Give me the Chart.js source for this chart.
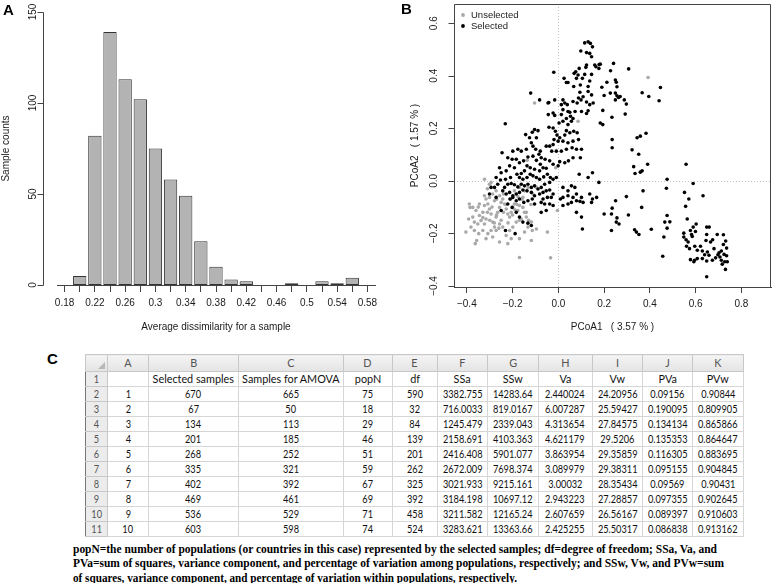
<!DOCTYPE html>
<html>
<head>
<meta charset="utf-8">
<script src="https://cdn.jsdelivr.net/npm/chart.js@4.4.1/dist/chart.umd.min.js"></script>
<style>
  html, body { margin: 0; padding: 0; background: #fff; }
  body { width: 775px; height: 583px; position: relative; overflow: hidden; }
  canvas { position: absolute; }
  .lab { position: absolute; font-family: "Liberation Sans", Arial, sans-serif; font-weight: bold; font-size: 15px; line-height: 15px; color: #000; z-index: 5; }
  #tbl { position: absolute; left: 85px; top: 354px; border-collapse: collapse; table-layout: fixed;
         font-family: Lato, "Open Sans", sans-serif; font-size: 11.5px; color: #111; }
  #tbl td { border: 1px solid #d6d6d6; height: 14px; padding: 0; text-align: center; white-space: nowrap; overflow: hidden; line-height: 14px; }
  #tbl td .c { display: flex; justify-content: center; }
  #tbl td .c span { display: inline-block; white-space: nowrap; transform-origin: 50% 50%; }
  #tbl tr.hdr td { background: linear-gradient(#f4f4f4, #e4e4e4); color: #555; height: 16px; line-height: 16px; border-color: #c8c8c8; }
  #tbl td.rn { background: #ececec; color: #555; border-color: #c8c8c8; }
  #tbl td.first { border-left: 1px solid #777; }
  #tbl td.corner { position: relative; }
  #tbl td.corner:after { content: ""; position: absolute; right: 2px; bottom: 2px; border-style: solid; border-width: 0 0 7px 7px; border-color: transparent transparent #b8b8b8 transparent; }
  .cap { position: absolute; left: 73px; font-family: "Liberation Serif", "Times New Roman", serif; font-weight: bold; font-size: 12.5px; line-height: 14px; white-space: nowrap; transform-origin: 0 50%; color: #000; }
</style>
</head>
<body>
<canvas id="ca" width="390" height="340" style="left:0;top:0"></canvas>
<canvas id="cb" width="385" height="345" style="left:390px;top:0"></canvas>
<div class="lab" style="left:3px;top:2px">A</div>
<div class="lab" style="left:401px;top:1px">B</div>
<div class="lab" style="left:47px;top:351px">C</div>
<table id="tbl"></table>
<div class="cap" id="cap1" style="top:542px"></div>
<div class="cap" id="cap2" style="top:556px"></div>
<div class="cap" id="cap3" style="top:571px"></div>
<script>
// ---------------- Panel A data ----------------
const dissimBins = [0.18, 0.20, 0.22, 0.24, 0.26, 0.28, 0.30, 0.32, 0.34, 0.36, 0.38, 0.40, 0.42, 0.44, 0.46, 0.48, 0.50, 0.52, 0.54, 0.56, 0.58];
const sampleCounts = [0, 5, 82, 139, 113, 102, 75, 58, 49, 24, 10, 3, 2, 0, 0, 1, 0, 2, 1, 4, 0];
const countTicks = [0, 50, 100, 150];
const countTickLabels = ['0', '50', '100', '150'];

// ---------------- Panel B data ----------------
const pcoaXTicks = [-0.4, -0.2, 0.0, 0.2, 0.4, 0.6, 0.8];
const pcoaYTicks = [-0.4, -0.2, 0.0, 0.2, 0.4, 0.6];
const pcoaYTickLabels = ['\u22120.4', '\u22120.2', '0.0', '0.2', '0.4', '0.6'];
const seriesNames = ['Unselected', 'Selected'];

const selectedPts = [
[0.115,0.525],[0.130,0.529],[0.140,0.523],[0.149,0.510],[0.098,0.494],[0.123,0.488],[0.137,0.485],[0.145,0.472],
[0.159,0.441],[0.178,0.443],[0.123,0.441],[0.120,0.432],[0.091,0.428],[0.076,0.415],[0.069,0.409],[0.086,0.403],
[0.115,0.405],[0.145,0.405],[0.177,0.428],[0.164,0.434],[-0.020,0.413],[0.025,0.390],[0.035,0.374],[0.042,0.374],
[0.079,0.390],[0.105,0.390],[0.067,0.359],[0.096,0.365],[0.130,0.359],[0.137,0.380],[0.145,0.327],[0.130,0.340],
[0.094,0.337],[0.108,0.320],[0.088,0.315],[0.064,0.302],[0.020,0.308],[0.028,0.296],[0.013,0.290],[0.039,0.290],
[0.020,0.271],[0.042,0.264],[0.082,0.296],[0.099,0.308],[0.123,0.300],[0.137,0.290],[0.152,0.296],[0.130,0.267],
[0.123,0.256],[0.101,0.264],[0.073,0.264],[0.050,0.261],[0.053,0.246],[0.035,0.237],[0.013,0.252],[-0.016,0.249],
[-0.044,0.252],[-0.023,0.258],[-0.042,0.298],[-0.016,0.308],[-0.082,0.308],[-0.121,0.334],[-0.045,0.296],[0.057,0.227],
[0.064,0.237],[0.042,0.214],[0.020,0.227],[0.003,0.220],[-0.023,0.201],[-0.013,0.189],[-0.041,0.204],[-0.006,0.174],
[0.006,0.164],[0.028,0.174],[0.050,0.183],[0.035,0.191],[0.067,0.189],[0.082,0.183],[0.088,0.157],[0.064,0.151],
[0.042,0.145],[0.020,0.151],[-0.001,0.151],[-0.019,0.157],[-0.023,0.138],[-0.038,0.132],[-0.053,0.132],[-0.029,0.113],
[-0.009,0.113],[0.013,0.113],[0.035,0.120],[0.060,0.126],[0.079,0.120],[0.101,0.120],[0.096,0.088],[0.064,0.088],
[0.044,0.076],[0.028,0.069],[0.006,0.073],[-0.001,0.057],[-0.023,0.063],[-0.038,0.076],[-0.058,0.082],[-0.075,0.088],
[-0.085,0.101],[-0.079,0.113],[-0.099,0.120],[-0.111,0.132],[-0.096,0.164],[-0.089,0.191],[-0.104,0.195],[-0.114,0.185],
[-0.143,0.176],[-0.126,0.164],[-0.118,0.145],[-0.140,0.120],[-0.162,0.113],[-0.177,0.120],[-0.199,0.113],[-0.221,0.088],
[-0.246,0.107],[-0.202,0.082],[-0.184,0.082],[-0.170,0.069],[-0.152,0.076],[-0.133,0.091],[-0.111,0.094],[-0.096,0.078],
[-0.079,0.063],[-0.067,0.050],[-0.053,0.048],[-0.082,0.038],[-0.104,0.044],[-0.123,0.050],[-0.137,0.057],[-0.148,0.038],
[-0.162,0.028],[-0.170,0.013],[-0.155,0.006],[-0.137,0.013],[-0.123,0.025],[-0.111,0.019],[-0.096,0.013],[-0.082,0.006],
[-0.064,0.015],[-0.048,0.025],[-0.035,0.013],[-0.023,0.006],[-0.009,0.013],[-0.038,-0.006],[-0.060,-0.013],[-0.075,-0.025],
[-0.089,-0.031],[-0.104,-0.019],[-0.118,-0.025],[-0.133,-0.013],[-0.148,-0.019],[-0.162,-0.013],[-0.177,-0.023],[-0.192,-0.015],
[-0.206,-0.010],[-0.221,-0.013],[-0.235,-0.025],[-0.243,-0.038],[-0.228,-0.050],[-0.213,-0.044],[-0.199,-0.057],[-0.184,-0.050],
[-0.170,-0.044],[-0.155,-0.035],[-0.137,-0.038],[-0.118,-0.044],[-0.104,-0.057],[-0.082,-0.050],[-0.067,-0.044],[-0.053,-0.038],
[-0.038,-0.035],[-0.023,-0.050],[-0.031,-0.063],[-0.048,-0.063],[-0.067,-0.069],[-0.075,-0.082],[-0.060,-0.088],[-0.038,-0.088],
[-0.023,-0.094],[-0.053,-0.113],[-0.075,-0.120],[-0.104,-0.088],[-0.114,-0.069],[-0.133,-0.076],[-0.151,-0.082],[-0.170,-0.069],
[-0.184,-0.076],[-0.199,-0.063],[-0.211,-0.069],[-0.221,-0.088],[-0.202,-0.101],[-0.184,-0.120],[-0.170,-0.138],[-0.155,-0.157],
[-0.133,-0.161],[-0.118,-0.170],[-0.189,-0.201],[-0.231,-0.189],[-0.250,-0.113],[-0.272,-0.063],[-0.279,-0.025],[-0.272,0.013],
[-0.250,0.031],[-0.257,0.050],[-0.228,0.038],[-0.213,0.057],[-0.192,0.050],[-0.181,0.025],[-0.209,0.013],[-0.231,0.006],
[-0.253,0.003],[-0.265,-0.013],[-0.294,-0.025],[-0.301,-0.050],
[0.020,-0.025],[0.042,-0.038],[0.057,-0.019],[0.072,-0.025],[0.079,-0.050],[0.064,-0.063],[0.042,-0.057],[0.020,-0.063],
[0.009,-0.069],[0.020,-0.094],[0.042,-0.088],[0.057,-0.082],[0.079,-0.076],[0.094,-0.078],[0.108,-0.082],[0.101,-0.063],
[0.091,0.025],[0.130,0.013],[0.149,0.031],[0.177,-0.006],[0.137,-0.050],[0.149,-0.069],[0.167,-0.063],[0.145,-0.082],
[0.101,-0.138],[0.079,-0.120],[0.105,-0.183],[0.200,-0.126],[0.232,-0.126],[0.232,-0.189],[0.235,0.157],[0.235,0.126],
[0.228,0.419],[-0.232,0.217],
[0.183,0.444],[0.241,0.447],[0.307,0.426],[0.212,0.375],[0.249,0.384],[0.253,0.375],[0.256,0.358],[0.190,0.356],
[0.200,0.325],[0.227,0.334],[0.249,0.334],[0.256,0.324],[0.263,0.317],[0.270,0.321],[0.249,0.308],[0.288,0.308],
[0.297,0.292],[0.292,0.254],[0.194,0.268],[0.234,0.242],[0.183,0.220],[0.194,0.214],[0.366,0.335],[0.395,0.321],
[0.446,0.355],[0.440,0.305],[0.383,0.181],[0.358,0.170],[0.344,0.164],[0.322,0.118],[0.351,0.101],[0.390,0.063],
[0.329,0.054],[0.335,0.028],[0.358,0.033],[0.366,0.038],[0.558,0.063],[0.475,0.006],[0.589,-0.010],[0.472,-0.028],
[0.370,-0.038],[0.297,-0.060],[0.250,-0.076],[0.235,-0.104],[0.256,-0.141],[0.253,-0.157],[0.265,-0.164],[0.306,-0.130],
[0.364,-0.101],[0.475,-0.132],[0.465,-0.157],[0.487,-0.156],[0.475,-0.180],[0.406,-0.184],[0.333,-0.186],[0.341,-0.195],
[0.352,-0.204],[0.461,-0.214],[0.456,-0.287],[0.551,-0.044],[0.570,-0.069],[0.556,-0.097],[0.632,-0.057],[0.563,-0.145],
[0.602,-0.164],[0.589,-0.176],[0.577,-0.189],[0.548,-0.199],[0.548,-0.214],[0.558,-0.224],[0.567,-0.233],[0.560,-0.249],
[0.573,-0.258],[0.582,-0.204],[0.585,-0.212],[0.599,-0.193],[0.648,-0.176],[0.659,-0.176],[0.648,-0.204],[0.645,-0.227],
[0.665,-0.233],[0.674,-0.224],[0.694,-0.204],[0.721,-0.205],[0.731,-0.229],[0.721,-0.242],[0.735,-0.256],[0.712,-0.267],
[0.702,-0.274],[0.697,-0.281],[0.706,-0.290],[0.724,-0.280],[0.735,-0.285],[0.712,-0.302],[0.727,-0.308],[0.738,-0.308],
[0.716,-0.317],[0.730,-0.337],[0.680,-0.258],[0.687,-0.293],[0.673,-0.302],[0.648,-0.305],[0.651,-0.271],[0.639,-0.281],
[0.629,-0.267],[0.621,-0.249],[0.607,-0.264],[0.596,-0.249],[0.577,-0.300],[0.595,-0.302],[0.607,-0.296],[0.592,-0.308],
[0.629,-0.296],[0.658,-0.283],[0.648,-0.365]
];

const unselectedPts = [
[-0.404,-0.195],[-0.389,-0.088],[-0.386,-0.101],[-0.392,-0.145],[-0.374,-0.138],[-0.382,-0.176],[-0.367,-0.189],[-0.363,-0.239],
[-0.357,-0.227],[-0.348,-0.201],[-0.352,-0.164],[-0.338,-0.151],[-0.330,-0.120],[-0.323,-0.094],[-0.316,-0.069],[-0.308,-0.088],
[-0.301,-0.107],[-0.294,-0.126],[-0.316,-0.145],[-0.323,-0.164],[-0.330,-0.189],[-0.308,-0.201],[-0.294,-0.189],[-0.279,-0.176],
[-0.287,-0.157],[-0.272,-0.138],[-0.265,-0.120],[-0.257,-0.101],[-0.250,-0.082],[-0.243,-0.069],[-0.235,-0.088],[-0.228,-0.107],
[-0.221,-0.126],[-0.213,-0.138],[-0.206,-0.120],[-0.199,-0.101],[-0.192,-0.088],[-0.177,-0.113],[-0.170,-0.094],[-0.155,-0.101],
[-0.148,-0.120],[-0.140,-0.138],[-0.162,-0.145],[-0.184,-0.157],[-0.199,-0.176],[-0.213,-0.189],[-0.228,-0.208],[-0.243,-0.176],
[-0.257,-0.164],[-0.272,-0.189],[-0.287,-0.214],[-0.316,-0.220],[-0.257,-0.233],[-0.221,-0.239],[-0.206,-0.220],[-0.170,-0.220],
[-0.148,-0.195],[-0.133,-0.176],[-0.118,-0.157],[-0.114,-0.189],[-0.118,-0.227],[-0.170,-0.292],[-0.034,-0.293],[-0.048,-0.195],
[-0.096,-0.183],[-0.155,-0.063],[-0.177,-0.060],[-0.192,-0.038],[-0.170,-0.025],[-0.148,-0.038],[-0.133,-0.025],[-0.111,-0.050],
[-0.096,-0.025],[-0.287,-0.050],[-0.301,-0.013],[-0.323,0.006],[-0.294,-0.006],[-0.272,-0.038],[-0.257,-0.057],[-0.279,-0.076],
[-0.301,-0.063],[-0.323,-0.057],[-0.345,-0.088],[-0.360,-0.113],[-0.374,-0.101],[-0.345,-0.132],[-0.367,-0.157],[-0.104,0.296],
[0.086,0.227],[-0.004,-0.113],[0.392,0.393],[-0.012,0.050],[-0.136,0.078],
[-0.31,-0.12],[-0.29,-0.10],[-0.27,-0.13],[-0.25,-0.15],[-0.24,-0.12],[-0.22,-0.16],[-0.20,-0.13],[-0.19,-0.11],
[-0.26,-0.18],[-0.28,-0.16],[-0.30,-0.15],[-0.33,-0.14],[-0.23,-0.09],[-0.21,-0.07],[-0.18,-0.09],[-0.16,-0.07],
[-0.27,-0.07],[-0.24,-0.05],[-0.31,-0.03],[-0.35,-0.10],[-0.17,-0.15],[-0.14,-0.12],[-0.12,-0.09],[-0.13,-0.15]
];

// ---------------- Panel C data ----------------
const colLetters = ['A', 'B', 'C', 'D', 'E', 'F', 'G', 'H', 'I', 'J', 'K'];
const headerRow = ['', 'Selected samples', 'Samples for AMOVA', 'popN', 'df', 'SSa', 'SSw', 'Va', 'Vw', 'PVa', 'PVw'];
const sampleSet = [1, 2, 3, 4, 5, 6, 7, 8, 9, 10];
const selectedSamples = [670, 67, 134, 201, 268, 335, 402, 469, 536, 603];
const amovaSamples = [665, 50, 113, 185, 252, 321, 392, 461, 529, 598];
const popN = [75, 18, 29, 46, 51, 59, 67, 69, 71, 74];
const dfVals = [590, 32, 84, 139, 201, 262, 325, 392, 458, 524];
const SSa = [3382.755, 716.0033, 1245.479, 2158.691, 2416.408, 2672.009, 3021.933, 3184.198, 3211.582, 3283.621];
const SSw = [14283.64, 819.0167, 2339.043, 4103.363, 5901.077, 7698.374, 9215.161, 10697.12, 12165.24, 13363.66];
const Va = [2.440024, 6.007287, 4.313654, 4.621179, 3.863954, 3.089979, 3.00032, 2.943223, 2.607659, 2.425255];
const Vw = [24.20956, 25.59427, 27.84575, 29.5206, 29.35859, 29.38311, 28.35434, 27.28857, 26.56167, 25.50317];
const PVa = [0.09156, 0.190095, 0.134134, 0.135353, 0.116305, 0.095155, 0.09569, 0.097355, 0.089397, 0.086838];
const PVw = [0.90844, 0.809905, 0.865866, 0.864647, 0.883695, 0.904845, 0.90431, 0.902645, 0.910603, 0.913162];
const captionLines = [
  'popN=the number of populations (or countries in this case) represented by the selected samples; df=degree of freedom; SSa, Va, and',
  'PVa=sum of squares, variance component, and percentage of variation among populations, respectively; and SSw, Vw, and PVw=sum',
  'of squares, variance component, and percentage of variation within populations, respectively.'
];

// ---------------- helpers ----------------
Chart.defaults.font.family = '"Liberation Sans", Arial, Helvetica, sans-serif';
Chart.defaults.font.size = 10;
Chart.defaults.color = '#1a1a1a';
Chart.defaults.animation = false;

const rStyle = {
  id: 'rStyle',
  beforeDatasetsDraw(chart, args, o) {
    if (!o.refLines) return;
    const { ctx, chartArea: a, scales: { x, y } } = chart;
    ctx.save();
    ctx.strokeStyle = '#c2c2c2'; ctx.lineWidth = 1; ctx.setLineDash([1, 2]);
    const px = Math.round(x.getPixelForValue(0)) + 0.5, py = Math.round(y.getPixelForValue(0)) + 0.5;
    ctx.beginPath();
    ctx.moveTo(px, a.top); ctx.lineTo(px, a.bottom);
    ctx.moveTo(a.left, py); ctx.lineTo(a.right, py);
    ctx.stroke();
    ctx.restore();
  },
  afterDraw(chart, args, o) {
    const { ctx, chartArea: a, scales: { y } } = chart;
    ctx.save();
    ctx.strokeStyle = '#444'; ctx.lineWidth = 1;
    const ax = Math.round(a.left - o.gap) + 0.5;
    ctx.beginPath();
    if (o.box) {
      ctx.rect(Math.round(a.left) + 0.5, Math.round(a.top) + 0.5, Math.round(a.right - a.left) - 1, Math.round(a.bottom - a.top));
    } else {
      ctx.moveTo(ax, Math.round(y.getPixelForValue(o.ticks[0])) + 0.5);
      ctx.lineTo(ax, Math.round(y.getPixelForValue(o.ticks[o.ticks.length - 1])) + 0.5);
    }
    o.ticks.forEach(v => {
      const p = Math.round(y.getPixelForValue(v)) + 0.5;
      ctx.moveTo(ax, p); ctx.lineTo(ax - o.len, p);
    });
    ctx.stroke();
    ctx.fillStyle = '#1a1a1a';
    ctx.font = '10px "Liberation Sans", Arial, sans-serif';
    ctx.textAlign = 'center'; ctx.textBaseline = 'middle';
    o.ticks.forEach((v, i) => {
      ctx.save();
      ctx.translate(ax - o.labelDist, y.getPixelForValue(v));
      ctx.rotate(-Math.PI / 2);
      ctx.fillText(o.labels[i], 0, 0);
      ctx.restore();
    });
    if (o.legend) {
      ctx.textAlign = 'left';
      ctx.font = '9.5px "Liberation Sans", Arial, sans-serif';
      chart.data.datasets.forEach((ds, i) => {
        const cy = a.top + o.legend.top + i * o.legend.step;
        ctx.fillStyle = ds.backgroundColor;
        ctx.beginPath(); ctx.arc(a.left + o.legend.dot, cy, 1.9, 0, Math.PI * 2); ctx.fill();
        ctx.fillStyle = '#1a1a1a';
        ctx.fillText(ds.label, a.left + o.legend.text, cy);
      });
    }
    ctx.restore();
  }
};

// ---------------- Chart A ----------------
new Chart(document.getElementById('ca'), {
  type: 'bar',
  data: {
    labels: dissimBins.map(String),
    datasets: [{
      data: sampleCounts,
      backgroundColor: '#b3b3b3',
      borderColor: '#333',
      borderWidth: 1,
      borderSkipped: false,
      barPercentage: 0.88,
      categoryPercentage: 1.0
    }]
  },
  options: {
    responsive: false,
    devicePixelRatio: 1,
    layout: { padding: { top: 12, right: 15, left: 0, bottom: 0 } },
    plugins: {
      legend: { display: false },
      tooltip: { enabled: false },
      rStyle: { gap: 14, len: 6, labelDist: 10, ticks: countTicks, labels: countTickLabels, box: false, refLines: false }
    },
    scales: {
      x: {
        offset: true,
        grid: { display: true, drawOnChartArea: false, offset: false, tickLength: 7, color: '#444' },
        border: { display: true, color: '#444' },
        ticks: {
          autoSkip: false, maxRotation: 0, minRotation: 0, padding: 5, color: '#1a1a1a',
          callback: function (val, idx) { return idx % 2 === 0 ? this.getLabelForValue(val) : ''; }
        },
        title: { display: true, text: 'Average dissimilarity for a sample', padding: { top: 0, bottom: 7 }, color: '#1a1a1a' },
        afterFit: s => { s.height = 55; }
      },
      y: {
        min: 0, max: 150,
        ticks: { display: false },
        grid: { display: false },
        border: { display: false },
        title: { display: true, text: 'Sample counts', padding: { top: 0, bottom: 0 }, color: '#1a1a1a' },
        afterFit: s => { s.width = 57; }
      }
    }
  },
  plugins: [rStyle]
});

// ---------------- Chart B ----------------
const toXY = arr => arr.map(p => ({ x: p[0], y: p[1] }));
new Chart(document.getElementById('cb'), {
  type: 'scatter',
  data: {
    datasets: [
      { label: seriesNames[0], data: toXY(unselectedPts), backgroundColor: '#a9a9a9', borderWidth: 0, pointRadius: 1.8, order: 1 },
      { label: seriesNames[1], data: toXY(selectedPts), backgroundColor: '#000000', borderWidth: 0, pointRadius: 1.8, order: 0 }
    ]
  },
  options: {
    responsive: false,
    devicePixelRatio: 1,
    layout: { padding: { top: 2, right: 4, left: 0, bottom: 0 } },
    plugins: {
      legend: { display: false },
      tooltip: { enabled: false },
      rStyle: { gap: 0, len: 6, labelDist: 20, ticks: pcoaYTicks, labels: pcoaYTickLabels, box: true, refLines: true,
                legend: { dot: 9, text: 17, top: 11, step: 11 } }
    },
    scales: {
      x: {
        type: 'linear', min: -0.456, max: 0.929,
        afterBuildTicks: s => { s.ticks = pcoaXTicks.map(v => ({ value: v })); },
        grid: { display: true, drawOnChartArea: false, tickLength: 6, color: '#444' },
        border: { display: true, color: '#444' },
        ticks: { padding: 5, color: '#1a1a1a', maxRotation: 0, callback: v => v.toFixed(1).replace('-', '\u2212') },
        title: { display: true, text: 'PCoA1   ( 3.57 % )', padding: { top: 0, bottom: 12 }, color: '#1a1a1a' },
        afterFit: s => { s.height = 58; }
      },
      y: {
        type: 'linear', min: -0.404, max: 0.673,
        ticks: { display: false },
        grid: { display: false },
        border: { display: false },
        title: { display: true, text: 'PCoA2   ( 1.57 % )', padding: { top: 19, bottom: 0 }, color: '#1a1a1a' },
        afterFit: s => { s.width = 64; }
      }
    }
  },
  plugins: [rStyle]
});

// ---------------- Table C ----------------
const colWidths = [22, 41, 90, 101, 49, 45, 50, 45, 54, 47, 48, 50];
(function buildTable() {
  const t = document.getElementById('tbl');
  const cell = (txt, cls) => '<td' + (cls ? ' class="' + cls + '"' : '') + '><div class="c"><span>' + txt + '</span></div></td>';
  let html = '<colgroup>' + colWidths.map(w => '<col style="width:' + w + 'px">').join('') + '</colgroup>';
  html += '<tr class="hdr"><td class="first corner"></td>' + colLetters.map(c => cell(c)).join('') + '</tr>';
  html += '<tr>' + cell('1', 'rn first') + headerRow.map(h => cell(h)).join('') + '</tr>';
  const cols = [sampleSet, selectedSamples, amovaSamples, popN, dfVals, SSa, SSw, Va, Vw, PVa, PVw];
  for (let r = 0; r < sampleSet.length; r++) {
    html += '<tr>' + cell(String(r + 2), 'rn first') + cols.map(c => cell(String(c[r]))).join('') + '</tr>';
  }
  t.innerHTML = html;
  t.querySelectorAll('td .c span').forEach(sp => {
    const numeric = /^[0-9.]+$/.test(sp.textContent);
    sp.style.transform = 'scaleX(' + (numeric ? 0.8 : 0.94) + ')';
  });
})();

// ---------------- Caption ----------------
const capTargets = [644, 651, 444];
captionLines.forEach((txt, i) => {
  const el = document.getElementById('cap' + (i + 1));
  el.textContent = txt;
  const w = el.getBoundingClientRect().width;
  el.style.transform = 'scaleX(' + (capTargets[i] / w).toFixed(4) + ')';
});
</script>
</body>
</html>
